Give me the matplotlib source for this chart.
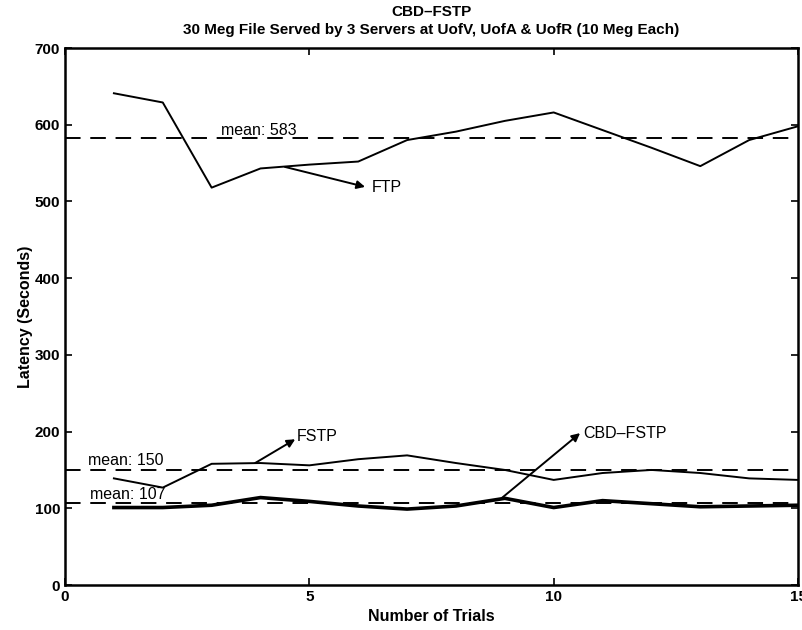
import matplotlib.pyplot as plt
import numpy as np

plt.rcParams['font.family'] = ['Liberation Sans', 'DejaVu Sans']

# Dados
trials = np.arange(1, 16)
ftp = [641, 629, 518, 543, 548, 552, 580, 591, 605, 616, 593, 570, 546, 580, 598]
fstp = [139, 127, 158, 159, 156, 164, 169, 159, 150, 137, 146, 150, 146, 139, 137]
cbd_fstp = [101, 101, 104, 114, 109, 103, 99, 103, 113, 101, 110, 106, 102, 103, 104]
mean_ftp = 583
mean_fstp = 150
mean_cbd = 107

fig = plt.figure(figsize=(8.03, 6.3), dpi=100)
ax = fig.add_axes([0.081, 0.0714, 0.9128, 0.8524])

ax.plot(trials, ftp, color='black', lw=1.4)
ax.plot(trials, fstp, color='black', lw=1.4)
ax.plot(trials, cbd_fstp, color='black', lw=2.6)

for m in (mean_ftp, mean_fstp, mean_cbd):
    ax.axhline(m, color='black', lw=1.4, dashes=(8, 5))

fs = 11.5
ax.text(3.2, mean_ftp, 'mean: 583', fontsize=fs, va='bottom')
ax.text(0.47, mean_fstp + 3, 'mean: 150', fontsize=fs, va='bottom')
ax.text(0.51, mean_cbd + 1, 'mean: 107', fontsize=fs, va='bottom')

arrow = dict(arrowstyle='-|>', color='black', lw=1.4, mutation_scale=12, shrinkA=0, shrinkB=0)
ax.text(6.28, 518, 'FTP', fontsize=fs, va='center')
ax.annotate('', xy=(6.14, 519), xytext=(4.5, 545), arrowprops=arrow)
ax.text(4.74, 194, 'FSTP', fontsize=fs, va='center')
ax.annotate('', xy=(4.71, 190), xytext=(3.89, 159), arrowprops=arrow)
ax.text(10.6, 198, 'CBD\u2013FSTP', fontsize=fs, va='center')
ax.annotate('', xy=(10.54, 198), xytext=(8.93, 113), arrowprops=arrow)

ax.set_xlim(0, 15)
ax.set_ylim(0, 700)
ax.set_xticks([0, 5, 10, 15])
ax.set_yticks(np.arange(0, 701, 100))
ax.tick_params(direction='in', top=True, right=True, length=5, width=1.2, labelsize=11)
for lbl in ax.get_xticklabels() + ax.get_yticklabels():
    lbl.set_fontweight('bold')
for s in ax.spines.values():
    s.set_linewidth(1.8)

ax.set_xlabel('Number of Trials', fontsize=11.5, fontweight='bold', labelpad=4)
ax.set_ylabel('Latency (Seconds)', fontsize=11.5, fontweight='bold', labelpad=1)
ax.set_title('CBD\u2013FSTP\n30 Meg File Served by 3 Servers at UofV, UofA & UofR (10 Meg Each)',
             fontsize=11, fontweight='bold', linespacing=1.35, pad=10)

plt.savefig('out.png', dpi=100)
